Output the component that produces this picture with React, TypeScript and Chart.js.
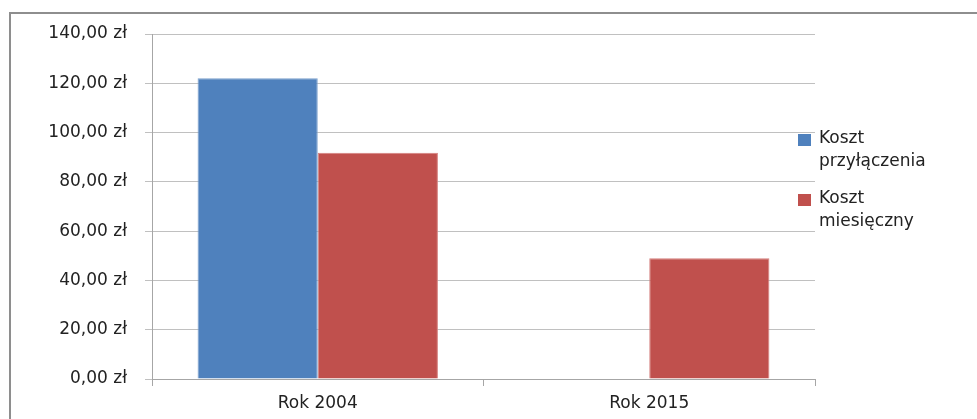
import React, { useEffect, useRef } from 'react';
import { Chart, registerables } from 'chart.js';

Chart.register(...registerables);

const categories = ['Rok 2004', 'Rok 2015'];
const seriesNames = ['Koszt przyłączenia', 'Koszt miesięczny'];
const kosztPrzylaczenia = [122, null];
const kosztMiesieczny = [91.8, 49];
const yTickValues = [0, 20, 40, 60, 80, 100, 120, 140];

const seriesColors = ['#4F81BD', '#C0504D'];
const seriesBorders = ['#7a9fcc', '#d57f7d'];

const FONT = '"DejaVu Sans", sans-serif';
const TEXT = '#222222';

const formatZl = (v: number) => v.toFixed(2).replace('.', ',') + ' zł';

const legendPlugin = {
  id: 'sideLegend',
  afterDraw(chart: any) {
    const ctx = chart.ctx;
    ctx.save();
    ctx.font = '17px ' + FONT;
    ctx.textBaseline = 'middle';
    ctx.textAlign = 'left';
    const startY = [139, 199];
    chart.data.datasets.forEach((ds: any, i: number) => {
      const lines = String(ds.label).split(' ');
      const y0 = startY[i];
      ctx.fillStyle = ds.backgroundColor;
      ctx.fillRect(798, y0 - 5, 13, 12);
      ctx.fillStyle = TEXT;
      lines.forEach((ln: string, j: number) => {
        ctx.fillText(ln, 819, y0 + j * 23);
      });
    });
    ctx.restore();
  },
};

export default function App() {
  const ref = useRef<HTMLCanvasElement | null>(null);

  useEffect(() => {
    if (!ref.current) return;
    const chart = new Chart(ref.current, {
      type: 'bar',
      data: {
        labels: categories,
        datasets: [
          {
            label: seriesNames[0],
            data: kosztPrzylaczenia,
            backgroundColor: seriesColors[0],
            borderColor: seriesBorders[0],
            borderWidth: 1,
            categoryPercentage: 0.725,
            barPercentage: 1,
          },
          {
            label: seriesNames[1],
            data: kosztMiesieczny,
            backgroundColor: seriesColors[1],
            borderColor: seriesBorders[1],
            borderWidth: 1,
            categoryPercentage: 0.725,
            barPercentage: 1,
          },
        ],
      },
      options: {
        responsive: false,
        animation: false,
        devicePixelRatio: 1,
        layout: { padding: { left: 0, right: 162, top: 34, bottom: 0 } },
        plugins: {
          legend: { display: false },
          tooltip: { enabled: false },
        },
        scales: {
          x: {
            type: 'category',
            offset: true,
            grid: {
              offset: true,
              drawOnChartArea: false,
              drawTicks: true,
              tickLength: 7,
              color: '#a6a6a6',
            },
            border: { color: '#a6a6a6' },
            ticks: {
              color: TEXT,
              font: { family: FONT, size: 17 },
              padding: 7,
            },
            afterFit: (s: any) => {
              s.height = 40;
            },
          },
          y: {
            min: 0,
            max: 140,
            afterBuildTicks: (s: any) => {
              s.ticks = yTickValues.map((v) => ({ value: v }));
            },
            grid: { color: '#c0c0c0', tickLength: 7 },
            border: { color: '#a6a6a6' },
            ticks: {
              color: TEXT,
              font: { family: FONT, size: 17 },
              padding: 18,
              callback: (v: any) => formatZl(Number(v)),
            },
            afterFit: (s: any) => {
              s.width = 152;
            },
          },
        },
      },
      plugins: [legendPlugin],
    } as any);
    return () => chart.destroy();
  }, []);

  return (
    <div style={{ position: 'absolute', left: 0, top: 0, width: 977, height: 419, background: '#fff', overflow: 'hidden' }}>
      <div
        style={{
          position: 'absolute',
          left: 9,
          top: 12,
          width: 977,
          height: 419,
          borderTop: '2px solid #8e8e8e',
          borderLeft: '2px solid #8e8e8e',
          boxSizing: 'border-box',
        }}
      />
      <canvas ref={ref} width={977} height={419} style={{ position: 'absolute', left: 0, top: 0, width: 977, height: 419 }} />
    </div>
  );
}
